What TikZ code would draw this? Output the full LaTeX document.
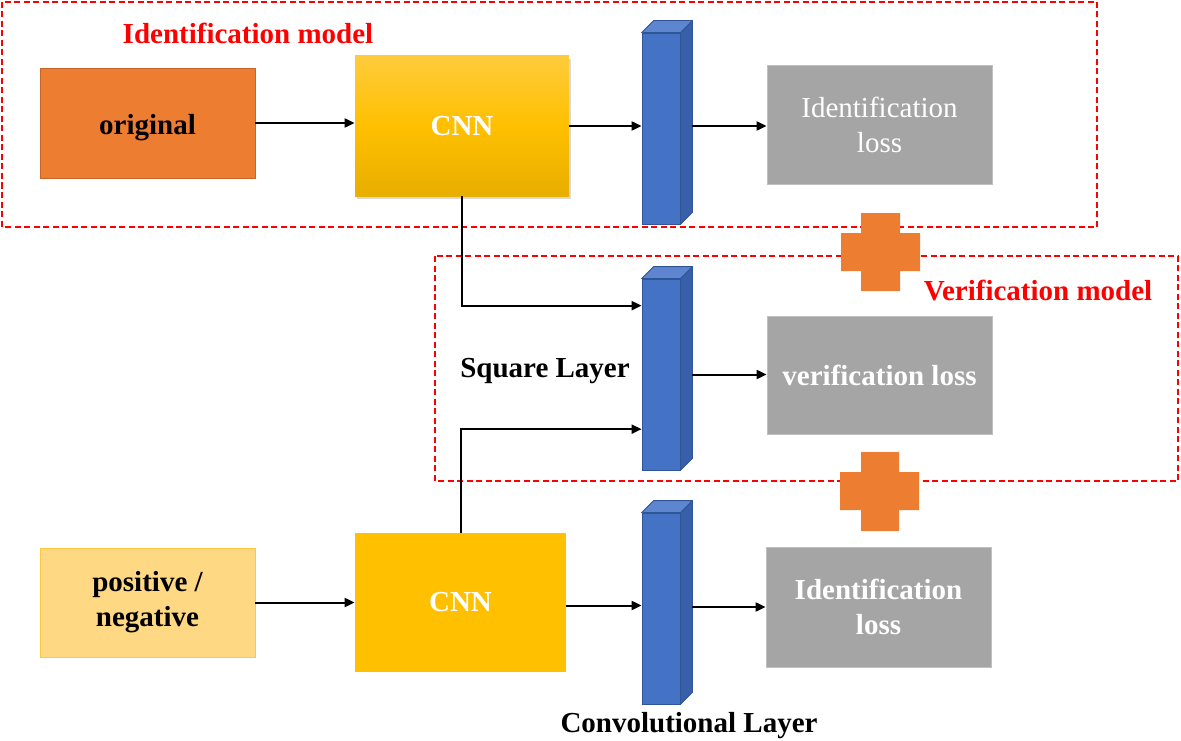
\documentclass[tikz,border=0pt]{standalone}
\usepackage{fontspec}
\setmainfont{Liberation Serif}
\usetikzlibrary{arrows.meta,shadows,calc}
\definecolor{origfill}{HTML}{ED7D31}
\definecolor{origline}{HTML}{C5652A}
\definecolor{cnnfill}{HTML}{FFC000}
\definecolor{cnntop}{HTML}{FFCB3C}
\definecolor{cnnbot}{HTML}{E8AE00}
\definecolor{posfill}{HTML}{FFD883}
\definecolor{posline}{HTML}{FFC83A}
\definecolor{grayfill}{HTML}{A5A5A5}
\definecolor{grayline}{HTML}{C0C0C0}
\definecolor{barfront}{HTML}{4472C4}
\definecolor{bartop}{HTML}{5E86D0}
\definecolor{barside}{HTML}{3860AA}
\definecolor{barline}{HTML}{2F5597}
\definecolor{plusfill}{HTML}{ED7D31}
\definecolor{redtxt}{HTML}{FF0000}
\begin{document}
\begin{tikzpicture}[x=1pt,y=-1pt,
  bigfont/.style={font=\fontsize{29}{35}\selectfont},
  boxbase/.style={rectangle, inner sep=0pt, line width=0.8pt, align=center, bigfont},
  origbox/.style={boxbase, fill=origfill, draw=origline, font=\fontsize{29}{35}\selectfont\bfseries},
  cnnbox/.style={boxbase, draw=none, text=white, font=\fontsize{29}{35}\selectfont\bfseries},
  posbox/.style={boxbase, fill=posfill, draw=posline, font=\fontsize{29}{35}\selectfont\bfseries},
  lossbox/.style={boxbase, fill=grayfill, draw=grayline, text=white},
  barbox/.style={rectangle, inner sep=0pt, minimum width=38pt, minimum height=191pt, fill=barfront, draw=barline, line width=0.8pt},
  barside/.style={fill=barside, draw=barline, line width=0.8pt, line join=round},
  bartopface/.style={fill=bartop, draw=barline, line width=0.8pt, line join=round},
  arr/.style={line width=2pt, -{Triangle[length=10pt,width=9pt]}},
  groupbox/.style={draw=redtxt, line width=1.3pt, dash pattern=on 6pt off 3.5pt},
  grouplabel/.style={text=redtxt, anchor=base, font=\fontsize{29}{35}\selectfont\bfseries},
  layerlabel/.style={text=black, anchor=base, font=\fontsize{29}{35}\selectfont\bfseries},
  plus/.style={fill=plusfill, draw=none}
]
\useasboundingbox (0,0) rectangle (1181,741);

% group boxes
\draw[groupbox] (2,2) rectangle (1097,227);
\draw[groupbox] (435,256) rectangle (1178,481);
\node[grouplabel] (idlabel) at (248,44) {Identification model};
\node[grouplabel] (verlabel) at (1038,300) {Verification model};

% top row
\node[origbox, minimum width=215pt, minimum height=110pt, text height=24pt, text depth=0pt] (orig) at (147.5,123) {original};
\node[cnnbox, minimum width=214pt, minimum height=140pt,
      top color=cnntop, bottom color=cnnbot, middle color=cnnfill,
      drop shadow={opacity=0.3, shadow xshift=2pt, shadow yshift=-3pt}] (cnn1) at (462,126) {CNN};
\node[barbox] (bar1) at (661,128.5) {};
\node[lossbox, minimum width=225pt, minimum height=119pt] (gray1) at (879.5,124.5) {Identification\\loss};

% middle row
\node[barbox] (bar2) at (661,374.5) {};
\node[lossbox, minimum width=225pt, minimum height=118pt, font=\fontsize{29}{35}\selectfont\bfseries] (gray2) at (879.5,375) {verification loss};
\node[layerlabel] (sqlabel) at (545,377) {Square Layer};

% bottom row
\node[posbox, minimum width=215pt, minimum height=109pt] (pos) at (147.5,602.5) {positive /\\negative};
\node[cnnbox, fill=cnnfill, minimum width=211pt, minimum height=139pt] (cnn2) at (460.5,602.5) {CNN};
\node[barbox] (bar3) at (661,608.5) {};
\node[lossbox, minimum width=225pt, minimum height=120pt, font=\fontsize{29}{35}\selectfont\bfseries] (gray3) at (878.5,607) {Identification\\loss};
\node[layerlabel] (convlabel) at (689,732) {Convolutional Layer};

% 3D faces of the bars
\foreach \b in {bar1,bar2,bar3}{
  \draw[barside] (\b.north east) -- ++(12,-12) -- ($(\b.south east)+(12,-12)$) -- (\b.south east) -- cycle;
  \draw[bartopface] (\b.north west) -- ++(12,-12) -- ($(\b.north east)+(12,-12)$) -- (\b.north east) -- cycle;
  \coordinate (\b s) at ($(\b.east)+(12,0)$);
}

% connectors
\draw[arr] (orig.east) -- (orig.east -| cnn1.west);
\draw[arr] (cnn1.east) -- (cnn1.east -| bar1.west);
\draw[arr] (bar1s |- cnn1.east) -- (gray1.west |- cnn1.east);
\draw[arr] (cnn1.south) |- ($(bar2.north west)!0.141!(bar2.south west)$);
\draw[arr] (cnn2.north) |- ($(bar2.north west)!0.785!(bar2.south west)$);
\draw[arr] (bar2s) -- (bar2s -| gray2.west);
\draw[arr] (cnn2.west -| pos.east) -- (cnn2.west);
\draw[arr] ([yshift=-3pt]cnn2.east) -- ([yshift=-3pt]cnn2.east -| bar3.west);
\draw[arr] (bar3s |- gray3.west) -- (gray3.west);

% plus signs
\fill[plus] (861,213) -- (900,213) -- (900,233) -- (920,233) -- (920,271) -- (900,271) -- (900,291)
  -- (861,291) -- (861,271) -- (841,271) -- (841,233) -- (861,233) -- cycle;
\fill[plus] (861,452) -- (899,452) -- (899,472) -- (919,472) -- (919,510) -- (899,510) -- (899,531)
  -- (861,531) -- (861,510) -- (840,510) -- (840,472) -- (861,472) -- cycle;
\end{tikzpicture}
\end{document}
